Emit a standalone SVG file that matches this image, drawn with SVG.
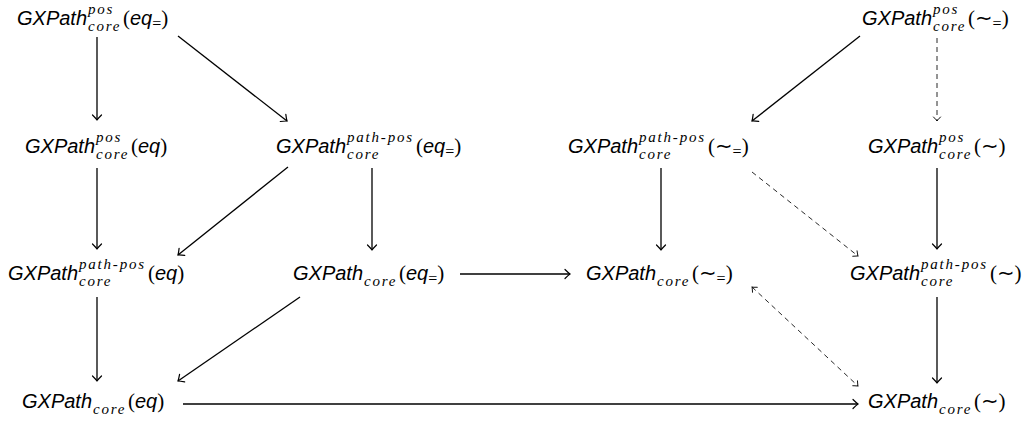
<svg xmlns="http://www.w3.org/2000/svg" width="1029" height="423" viewBox="0 0 1029 423">
<style>
.m{font-family:"Liberation Sans",Arial,sans-serif;font-style:italic;font-size:20px;fill:#000}
.s{font-family:"Liberation Serif","DejaVu Serif",serif;font-style:italic;font-size:15px;letter-spacing:1.8px;fill:#000}
.r{font-family:"Liberation Serif","DejaVu Serif",serif;font-style:normal;font-size:21px}
.q{font-family:"Liberation Serif","DejaVu Serif",serif;font-style:normal;font-size:16px}
.t{font-family:"DejaVu Sans",sans-serif;font-style:normal;font-size:21px}
.e{stroke:#000;stroke-width:1.3;fill:none}
.d{stroke:#111;stroke-width:0.9;fill:none;stroke-dasharray:5 4}
</style>
<defs>
<marker id="a" markerUnits="userSpaceOnUse" markerWidth="14" markerHeight="14" viewBox="-8 -7 10 14" refX="0" refY="0" orient="auto">
<path d="M-5,-4.5 Q-1.5,-1 0,0 Q-1.5,1 -5,4.5" fill="none" stroke="#000" stroke-width="1.2" stroke-linecap="round"/>
</marker>
<marker id="b" markerUnits="userSpaceOnUse" markerWidth="12" markerHeight="12" viewBox="-7 -6 9 12" refX="0" refY="0" orient="auto-start-reverse">
<path d="M-4,-3.5 Q-1.2,-0.8 0,0 Q-1.2,0.8 -4,3.5" fill="none" stroke="#111" stroke-width="1" stroke-linecap="round"/>
</marker>
</defs>

<g id="n-pos-eqeq">
<text class="m" x="17" y="25">GXPath</text>
<text class="s" x="88" y="14">pos</text>
<text class="s" x="88" y="31">core</text>
<text class="m" x="123" y="25"><tspan class="r">(</tspan>eq<tspan class="q" dy="4">=</tspan><tspan class="r" dy="-4">)</tspan></text>
</g>
<g id="n-pos-simeq">
<text class="m" x="862" y="25">GXPath</text>
<text class="s" x="933" y="14">pos</text>
<text class="s" x="933" y="31">core</text>
<text class="m" x="968" y="25"><tspan class="r">(</tspan><tspan class="t">∼</tspan><tspan class="q" dy="4">=</tspan><tspan class="r" dy="-4">)</tspan></text>
</g>

<g id="n-pos-eq">
<text class="m" x="25" y="153">GXPath</text>
<text class="s" x="96" y="142">pos</text>
<text class="s" x="96" y="159">core</text>
<text class="m" x="131" y="153"><tspan class="r">(</tspan>eq<tspan class="r">)</tspan></text>
</g>
<g id="n-pp-eqeq">
<text class="m" x="276" y="153">GXPath</text>
<text class="s" x="347" y="142">path-pos</text>
<text class="s" x="347" y="159">core</text>
<text class="m" x="416" y="153"><tspan class="r">(</tspan>eq<tspan class="q" dy="4">=</tspan><tspan class="r" dy="-4">)</tspan></text>
</g>
<g id="n-pp-simeq">
<text class="m" x="568" y="153">GXPath</text>
<text class="s" x="639" y="142">path-pos</text>
<text class="s" x="639" y="159">core</text>
<text class="m" x="708" y="153"><tspan class="r">(</tspan><tspan class="t">∼</tspan><tspan class="q" dy="4">=</tspan><tspan class="r" dy="-4">)</tspan></text>
</g>
<g id="n-pos-sim">
<text class="m" x="868" y="153">GXPath</text>
<text class="s" x="939" y="142">pos</text>
<text class="s" x="939" y="159">core</text>
<text class="m" x="974" y="153"><tspan class="r">(</tspan><tspan class="t">∼</tspan><tspan class="r">)</tspan></text>
</g>

<g id="n-pp-eq">
<text class="m" x="8" y="280">GXPath</text>
<text class="s" x="79" y="269">path-pos</text>
<text class="s" x="79" y="286">core</text>
<text class="m" x="148" y="280"><tspan class="r">(</tspan>eq<tspan class="r">)</tspan></text>
</g>
<g id="n-core-eqeq">
<text class="m" x="293" y="280">GXPath</text>
<text class="s" x="364" y="286">core</text>
<text class="m" x="399" y="280"><tspan class="r">(</tspan>eq<tspan class="q" dy="4">=</tspan><tspan class="r" dy="-4">)</tspan></text>
</g>
<g id="n-core-simeq">
<text class="m" x="586" y="280">GXPath</text>
<text class="s" x="657" y="286">core</text>
<text class="m" x="692" y="280"><tspan class="r">(</tspan><tspan class="t">∼</tspan><tspan class="q" dy="4">=</tspan><tspan class="r" dy="-4">)</tspan></text>
</g>
<g id="n-pp-sim">
<text class="m" x="850" y="280">GXPath</text>
<text class="s" x="921" y="269">path-pos</text>
<text class="s" x="921" y="286">core</text>
<text class="m" x="990" y="280"><tspan class="r">(</tspan><tspan class="t">∼</tspan><tspan class="r">)</tspan></text>
</g>

<g id="n-core-eq">
<text class="m" x="22" y="408">GXPath</text>
<text class="s" x="93" y="414">core</text>
<text class="m" x="128" y="408"><tspan class="r">(</tspan>eq<tspan class="r">)</tspan></text>
</g>
<g id="n-core-sim">
<text class="m" x="868" y="408">GXPath</text>
<text class="s" x="939" y="414">core</text>
<text class="m" x="974" y="408"><tspan class="r">(</tspan><tspan class="t">∼</tspan><tspan class="r">)</tspan></text>
</g>

<g id="connectors">
<path class="e" d="M97,37 L97,120" marker-end="url(#a)"/>
<path class="e" d="M178,36 L287,121" marker-end="url(#a)"/>
<path class="e" d="M97,168 L97,249" marker-end="url(#a)"/>
<path class="e" d="M288,167 L178,255" marker-end="url(#a)"/>
<path class="e" d="M372,168 L372,250" marker-end="url(#a)"/>
<path class="e" d="M97,297 L97,381" marker-end="url(#a)"/>
<path class="e" d="M300,297 L178,381" marker-end="url(#a)"/>
<path class="e" d="M460,274 L570,274" marker-end="url(#a)"/>
<path class="e" d="M183,404 L858,404" marker-end="url(#a)"/>
<path class="e" d="M860,36 L752,121" marker-end="url(#a)"/>
<path class="d" d="M937,38 L937,121" marker-end="url(#b)"/>
<path class="e" d="M937,168 L937,249" marker-end="url(#a)"/>
<path class="e" d="M661,168 L661,250" marker-end="url(#a)"/>
<path class="d" d="M752,172 L858,256" marker-end="url(#b)"/>
<path class="e" d="M937,297 L937,383" marker-end="url(#a)"/>
<path class="d" d="M752,287 L858,386" marker-start="url(#b)" marker-end="url(#b)"/>
</g>
</svg>
